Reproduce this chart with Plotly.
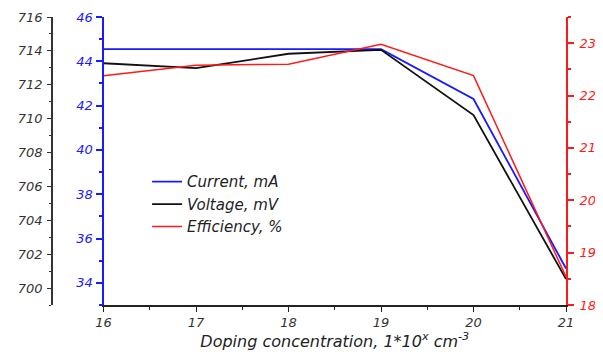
import plotly.graph_objects as go

doping = [16, 17, 18, 19, 20, 21]
current_mA = [44.55, 44.55, 44.55, 44.55, 42.3, 34.65]
voltage_mV = [713.27, 712.98, 713.83, 714.06, 710.21, 700.53]
efficiency_pct = [22.38, 22.58, 22.60, 22.98, 22.38, 18.54]

FONT = "DejaVu Sans, Liberation Sans, Arial, sans-serif"
BLUE = "#1a1aff"
RED = "#ff1a1a"
DARK = "#222222"

fig = go.Figure()
fig.add_trace(go.Scatter(x=doping, y=current_mA, name="Current, mA", mode="lines",
                         line=dict(color=BLUE, width=1.8), yaxis="y"))
fig.add_trace(go.Scatter(x=doping, y=voltage_mV, name="Voltage, mV", mode="lines",
                         line=dict(color="#111111", width=1.8), yaxis="y2"))
fig.add_trace(go.Scatter(x=doping, y=efficiency_pct, name="Efficiency, %", mode="lines",
                         line=dict(color=RED, width=1.5), yaxis="y3"))

tickfont = lambda c: dict(family=FONT, size=13, color=c, style="italic")

fig.update_layout(
    width=595, height=355,
    margin=dict(l=44, r=37, t=9, b=58, autoexpand=False),
    paper_bgcolor="white", plot_bgcolor="white",
    showlegend=True,
    legend=dict(x=0.185, y=0.485, xanchor="left", yanchor="top",
                bgcolor="rgba(0,0,0,0)", font=dict(family=FONT, size=15, color=DARK, style="italic"),
                tracegroupgap=0, itemwidth=30),
    xaxis=dict(domain=[0.1002, 1], range=[16, 21], dtick=1, showgrid=False, zeroline=False,
               showline=True, linecolor="#222", linewidth=1.5,
               ticks="outside", ticklen=5, tickwidth=1.2, tickcolor="#222",
               minor=dict(dtick=0.5, ticks="outside", ticklen=3, tickcolor="#222"),
               tickfont=tickfont("#333333"),
               title=dict(text="Doping concentration, 1*10<sup>x</sup> cm<sup>-3</sup>",
                          font=dict(family=FONT, size=16, color=DARK, style="italic"), standoff=6)),
    yaxis=dict(range=[33, 46], dtick=2, tick0=34, showgrid=False, zeroline=False,
               showline=True, linecolor=BLUE, linewidth=2,
               ticks="outside", ticklen=6, tickwidth=1.5, tickcolor=BLUE,
               minor=dict(dtick=1, ticks="outside", ticklen=3, tickcolor=BLUE),
               tickfont=tickfont(BLUE)),
    yaxis2=dict(range=[699, 716], dtick=2, tick0=700, showgrid=False, zeroline=False,
                overlaying="y", anchor="free", position=0, side="left",
                showline=True, linecolor="#333", linewidth=1.5,
                ticks="outside", ticklen=4, tickwidth=1.2, tickcolor="#333",
                minor=dict(dtick=1, ticks="outside", ticklen=2.5, tickcolor="#333"),
                ticklabelstandoff=2,
                tickfont=tickfont("#333333")),
    yaxis3=dict(range=[18, 23.5], dtick=1, showgrid=False, zeroline=False,
                overlaying="y", anchor="x", side="right",
                showline=True, linecolor=RED, linewidth=1.8,
                ticks="outside", ticklen=6, tickwidth=1.5, tickcolor=RED,
                minor=dict(dtick=0.5, ticks="outside", ticklen=3, tickcolor=RED),
                ticklabelstandoff=3,
                tickfont=tickfont(RED)),
)

fig.write_html("out.html")
